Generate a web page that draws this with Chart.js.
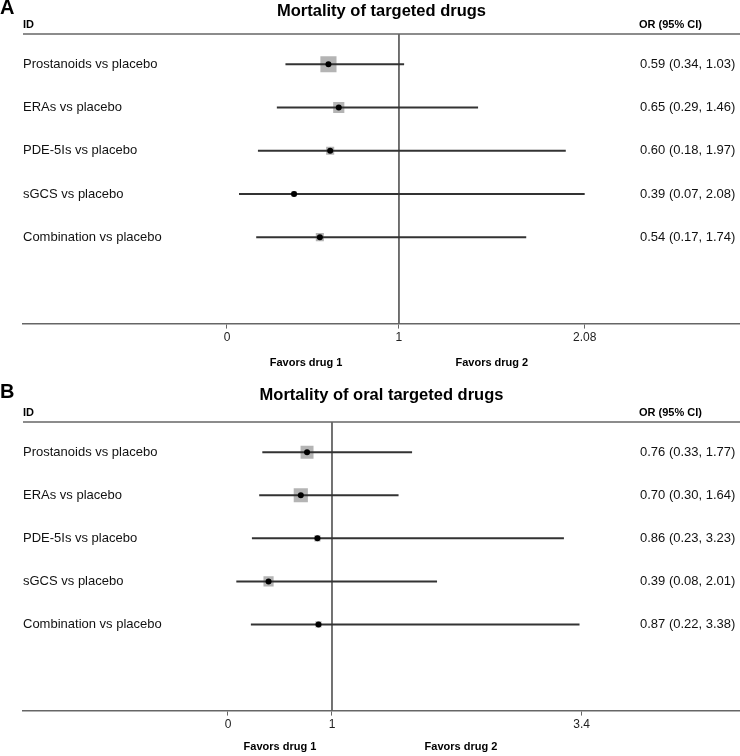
<!DOCTYPE html>
<html>
<head>
<meta charset="utf-8">
<script src="https://cdn.jsdelivr.net/npm/chart.js@4.4.1/dist/chart.umd.min.js"></script>
<style>
  body { margin: 0; background: #fff; }
  canvas { display: block; }
</style>
</head>
<body>
<canvas id="panelA" width="740" height="378"></canvas>
<canvas id="panelB" width="740" height="378"></canvas>
<script>
// comparisons (same rows in both panels)
const comparisons = ['Prostanoids vs placebo', 'ERAs vs placebo', 'PDE-5Is vs placebo', 'sGCS vs placebo', 'Combination vs placebo'];

// panel A - all targeted drugs
const orA = [0.59, 0.65, 0.60, 0.39, 0.54];
const lowA = [0.34, 0.29, 0.18, 0.07, 0.17];
const highA = [1.03, 1.46, 1.97, 2.08, 1.74];
const weightA = [48, 23, 12, 5, 12];
const ticksA = [0, 1, 2.08];

// panel B - oral targeted drugs
const orB = [0.76, 0.70, 0.86, 0.39, 0.87];
const lowB = [0.33, 0.30, 0.23, 0.08, 0.22];
const highB = [1.77, 1.64, 3.23, 2.01, 3.38];
const weightB = [31, 37, 7, 19, 7];
const ticksB = [0, 1, 3.4];

const FONT = '"Liberation Sans", Arial, sans-serif';
const Y_MIN = -0.7, Y_MAX = 6;

function fmt(v) { return v.toFixed(2); }

function makePanel(id, cfg) {
    const ctx = document.getElementById(id).getContext('2d');
    const rows = comparisons.map((c, i) => i);

    const datasets = [];
    // grey weight boxes
    datasets.push({
        data: rows.map(i => ({x: cfg.or[i], y: i})),
        pointStyle: 'rect',
        pointRadius: cfg.weight.map(w => 2.33 * Math.sqrt(w) / Math.SQRT2),
        backgroundColor: '#b4b4b4',
        borderWidth: 0,
        order: 4
    });
    // confidence intervals
    rows.forEach(i => {
        datasets.push({
            data: [{x: cfg.low[i], y: i}, {x: cfg.high[i], y: i}],
            showLine: true,
            borderColor: '#333',
            borderWidth: 2,
            pointRadius: 0,
            order: 2
        });
    });
    // line of no effect
    datasets.push({
        data: [{x: 1, y: Y_MIN}, {x: 1, y: Y_MAX}],
        showLine: true,
        borderColor: '#444',
        borderWidth: 1.5,
        pointRadius: 0,
        order: 3
    });
    // point estimates
    datasets.push({
        data: rows.map(i => ({x: cfg.or[i], y: i})),
        pointStyle: 'circle',
        pointRadius: 3,
        backgroundColor: '#000',
        borderWidth: 0,
        order: 1
    });

    const textPlugin = {
        id: 'forestText',
        afterDraw(chart) {
            const c = chart.ctx;
            const area = chart.chartArea;
            const xs = chart.scales.x, ys = chart.scales.y;
            c.save();
            // header rule
            c.strokeStyle = '#666';
            c.lineWidth = 1.5;
            c.beginPath();
            c.moveTo(area.left, area.top);
            c.lineTo(area.right, area.top);
            c.stroke();

            c.fillStyle = '#000';
            c.textBaseline = 'alphabetic';
            c.textAlign = 'left';
            c.font = 'bold 20px ' + FONT;
            c.fillText(cfg.letter, 0, cfg.letterY);

            c.textAlign = 'center';
            c.font = 'bold 16.5px ' + FONT;
            c.fillText(cfg.title, (area.left + area.right) / 2, cfg.titleY);

            c.textAlign = 'left';
            c.font = 'bold 11px ' + FONT;
            c.fillText('ID', area.left, area.top - 6);
            c.fillText('OR (95% CI)', 639, area.top - 6);

            c.textBaseline = 'middle';
            rows.forEach(i => {
                const y = ys.getPixelForValue(i);
                c.font = '13px ' + FONT;
                c.fillStyle = '#111';
                c.fillText(comparisons[i], area.left, y);
                c.fillText(fmt(cfg.or[i]) + ' (' + fmt(cfg.low[i]) + ', ' + fmt(cfg.high[i]) + ')', 640, y);
            });

            c.textAlign = 'center';
            c.textBaseline = 'alphabetic';
            c.font = 'bold 11px ' + FONT;
            c.fillStyle = '#000';
            c.fillText('Favors drug 1', xs.getPixelForValue(cfg.favors[0]), cfg.favorsY);
            c.fillText('Favors drug 2', xs.getPixelForValue(cfg.favors[1]), cfg.favorsY);
            c.restore();
        }
    };

    return new Chart(ctx, {
        type: 'scatter',
        data: {datasets: datasets},
        options: {
            responsive: false,
            animation: false,
            layout: {autoPadding: false, padding: {left: 23, right: 0, top: cfg.top, bottom: cfg.bottom}},
            plugins: {legend: {display: false}, tooltip: {enabled: false}, title: {display: false}},
            scales: {
                x: {
                    type: 'linear',
                    min: cfg.xMin,
                    max: cfg.xMax,
                    afterBuildTicks: axis => { axis.ticks = cfg.ticks.map(v => ({value: v})); },
                    border: {color: '#666', width: 1.5},
                    grid: {drawOnChartArea: false, drawTicks: true, tickLength: 5, color: '#666'},
                    ticks: {
                        color: '#222',
                        padding: 2,
                        font: {family: FONT, size: 12},
                        callback: v => String(v)
                    }
                },
                y: {
                    type: 'linear',
                    display: false,
                    reverse: true,
                    min: Y_MIN,
                    max: Y_MAX
                }
            }
        },
        plugins: [textPlugin]
    });
}

makePanel('panelA', {
    letter: 'A', title: 'Mortality of targeted drugs',
    or: orA, low: lowA, high: highA, weight: weightA, ticks: ticksA,
    xMin: -1.186, xMax: 2.983,
    top: 34, bottom: 31,
    letterY: 14, titleY: 16, favorsY: 366,
    favors: [0.46, 1.54]
});

makePanel('panelB', {
    letter: 'B', title: 'Mortality of oral targeted drugs',
    or: orB, low: lowB, high: highB, weight: weightB, ticks: ticksB,
    xMin: -1.971, xMax: 4.923,
    top: 44, bottom: 22,
    letterY: 20, titleY: 22, favorsY: 372,
    favors: [0.5, 2.24]
});
</script>
</body>
</html>
